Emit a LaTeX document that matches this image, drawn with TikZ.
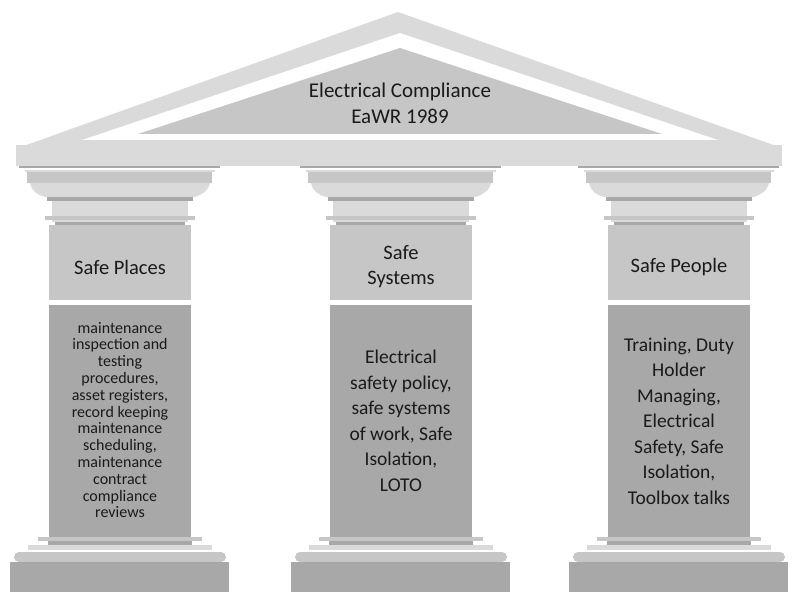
\documentclass[tikz,border=0pt]{standalone}
\usepackage{fontspec}
\setmainfont{Carlito}
\definecolor{lt}{HTML}{DADADA}
\definecolor{md}{HTML}{C6C6C6}
\definecolor{dk}{HTML}{A8A8A8}
\definecolor{tx}{HTML}{1A1A1A}
\tikzset{lbl/.style={text=tx,align=center,font=\fontsize{20.5}{25}\selectfont},
small/.style={text=tx,align=center,font=\fontsize{16}{16.8}\selectfont},
mid/.style={text=tx,align=center,font=\fontsize{19.5}{25.5}\selectfont}}
\newcommand{\column}[4]{%
\begin{scope}[shift={(#1,0)}]
\fill[dk] (-101,166) rectangle (100,168);
\fill[lt] (-95,170) rectangle (95,172);
\fill[md] (-93,172) rectangle (92,183);
\fill[lt] (-90,183) -- (90,183) .. controls (88,192) and (80,195) .. (75,197) -- (-75,197) .. controls (-82,195) and (-88,192) .. (-90,183) -- cycle;
\fill[dk] (-73,197) rectangle (73,201);
\fill[lt] (-68,201) rectangle (68,216);
\fill[md] (-75,216) rectangle (75,220);
\fill[lt] (-68,220) rectangle (68,222);
\fill[dk] (-65,222) rectangle (65,225);
\fill[md] (-71,225) rectangle (71,300);
\fill[dk] (-71,305) rectangle (71,537);
\fill[md] (-82,537) rectangle (82,541);
\fill[dk] (-72,541) rectangle (72,545);
\fill[lt] (-92,545) rectangle (92,550);
\fill[md,rounded corners=5pt] (-106,552) rectangle (106,562);
\fill[dk] (-110,562) rectangle (109,592);
\node[lbl] (h#2) at (0,#3) {#4};
\end{scope}}
\begin{document}
\begin{tikzpicture}[x=1pt,y=-1pt]
\useasboundingbox (0,0) rectangle (800,609);
\fill[lt] (18,148) -- (398,12) -- (782,148) -- cycle;
\fill[white] (82,140) -- (400,33) -- (718,140) -- cycle;
\fill[md] (138,134) -- (400,48) -- (662,134) -- cycle;
\fill[lt] (16,145) rectangle (782,166);
\node[lbl,font=\fontsize{21}{26}\selectfont] (title) at (400,103) {Electrical Compliance\\EaWR 1989};
\column{120}{a}{267}{Safe Places}
\column{401}{b}{267}{Safe\\Systems}
\column{679}{c}{267}{Safe People}
\node[small] (ta) at (120,420) {maintenance\\inspection and\\testing\\procedures,\\asset registers,\\record keeping\\maintenance\\scheduling,\\maintenance\\contract\\compliance\\reviews};
\node[mid] (tb) at (401,421) {Electrical\\safety policy,\\safe systems\\of work, Safe\\Isolation,\\LOTO};
\node[mid] (tc) at (679,421) {Training, Duty\\Holder\\Managing,\\Electrical\\Safety, Safe\\Isolation,\\Toolbox talks};
\end{tikzpicture}
\end{document}
